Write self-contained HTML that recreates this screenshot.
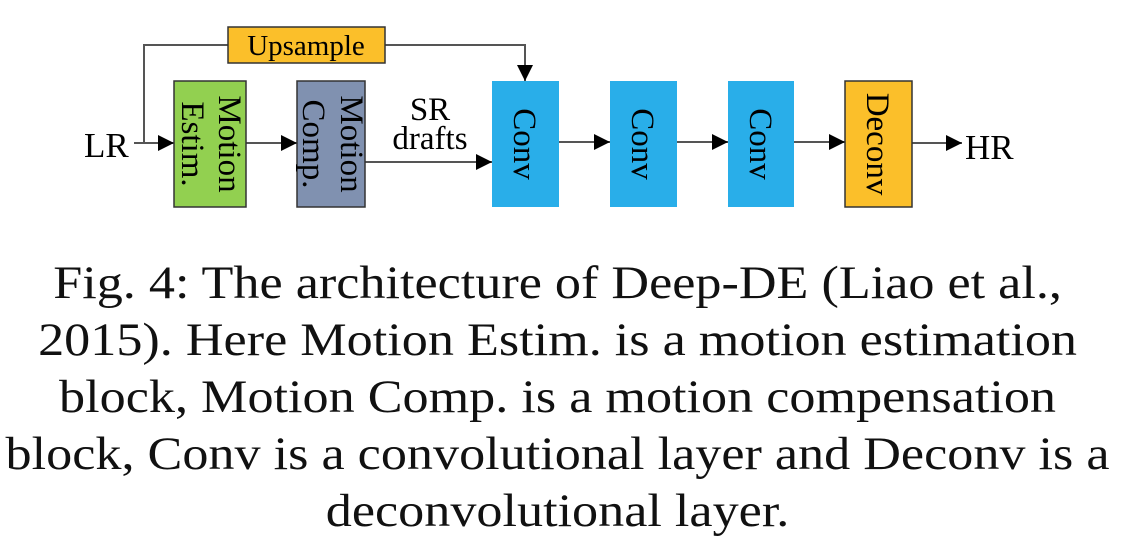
<!DOCTYPE html>
<html><head><style>
body{margin:0;background:#fff;width:1125px;height:559px;overflow:hidden;font-family:"Liberation Serif",serif;}
.cap{position:absolute;left:-5px;width:1125px;text-align:center;font-size:47px;line-height:57px;top:255px;color:#111;transform:scaleX(1.11);transform-origin:562px 0;}
</style></head><body>
<svg width="1125" height="250" style="position:absolute;left:0;top:0" font-family="Liberation Serif, serif">
<defs>
<marker id="b" viewBox="0 0 16 16" markerWidth="16" markerHeight="16" refX="16" refY="8" orient="auto" markerUnits="userSpaceOnUse"><path d="M0,0 L16,8 L0,16Z" fill="#000"/></marker></defs>
<g stroke="#555" stroke-width="2" fill="none">
<polyline points="144,143 144,45 525,45 525,81" marker-end="url(#b)"/>
<line x1="134" y1="143" x2="174" y2="143" marker-end="url(#b)"/>
<line x1="246" y1="143" x2="297" y2="143" marker-end="url(#b)"/>
<line x1="365" y1="162" x2="492" y2="162" marker-end="url(#b)"/>
<line x1="559" y1="142" x2="610" y2="142" marker-end="url(#b)"/>
<line x1="677" y1="142" x2="728" y2="142" marker-end="url(#b)"/>
<line x1="794" y1="142" x2="845" y2="142" marker-end="url(#b)"/>
<line x1="912" y1="143" x2="962" y2="143" marker-end="url(#b)"/>
</g>
<rect x="228" y="27" width="157" height="36" fill="#fbbf2a" stroke="#333" stroke-width="1.5"/>
<text x="306" y="55" font-size="29" text-anchor="middle">Upsample</text>
<rect x="174" y="81" width="72" height="126" fill="#92d050" stroke="#333" stroke-width="1.5"/>
<rect x="297" y="81" width="68" height="126" fill="#8091b0" stroke="#333" stroke-width="1.5"/>
<rect x="492" y="81" width="67" height="126" fill="#29aee9"/>
<rect x="610" y="81" width="67" height="126" fill="#29aee9"/>
<rect x="728" y="81" width="66" height="126" fill="#29aee9"/>
<rect x="845" y="81" width="67" height="126" fill="#fbbf2a" stroke="#333" stroke-width="1.5"/>
<g font-size="33">
<text transform="translate(219,144) rotate(90)" text-anchor="middle">Motion</text>
<text transform="translate(182,144) rotate(90)" text-anchor="middle">Estim.</text>
<text transform="translate(341,144) rotate(90)" text-anchor="middle">Motion</text>
<text transform="translate(303,144) rotate(90)" text-anchor="middle">Comp.</text>
<text transform="translate(514,144) rotate(90)" text-anchor="middle">Conv</text>
<text transform="translate(632,144) rotate(90)" text-anchor="middle">Conv</text>
<text transform="translate(750,144) rotate(90)" text-anchor="middle">Conv</text>
<text transform="translate(867,144) rotate(90)" text-anchor="middle">Deconv</text>
<text x="84" y="157" font-size="35">LR</text>
<text x="965" y="159" font-size="35">HR</text>
<text x="430" y="120" text-anchor="middle" font-size="33">SR</text>
<text x="430" y="149" text-anchor="middle" font-size="33">drafts</text>
</g>
</svg>
<div class="cap">Fig. 4: The architecture of Deep-DE (Liao et al.,<br>2015). Here Motion Estim. is a motion estimation<br>block, Motion Comp. is a motion compensation<br>block, Conv is a convolutional layer and Deconv is a<br>deconvolutional layer.</div>
</body></html>
